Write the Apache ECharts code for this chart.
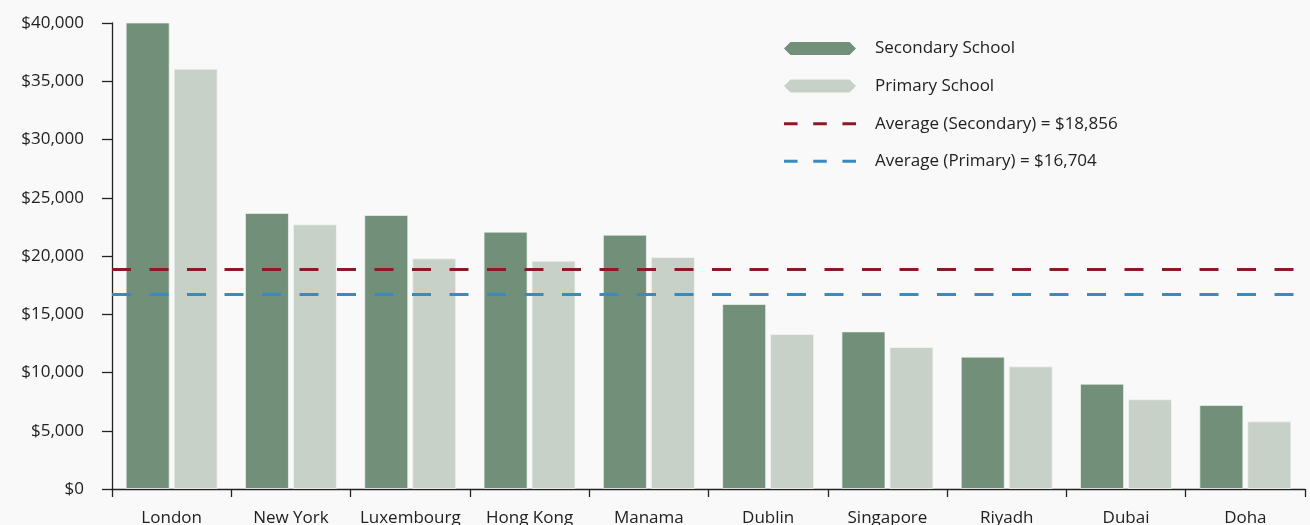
<!DOCTYPE html>
<html>
<head>
<meta charset="utf-8">
<script src="https://cdn.jsdelivr.net/npm/echarts@6/dist/echarts.min.js"></script>
<style>
  html, body { margin: 0; padding: 0; background: #f9f9f9; }
  #chart { width: 1310px; height: 525px; }
</style>
</head>
<body>
<div id="chart"></div>
<script>
// Annual school fees by city (USD)
const cities = ['London', 'New York', 'Luxembourg', 'Hong Kong', 'Manama', 'Dublin', 'Singapore', 'Riyadh', 'Dubai', 'Doha'];
const secondaryFees = [40320, 23690, 23520, 22090, 21830, 15880, 13530, 11360, 9040, 7210];
const primaryFees = [36080, 22720, 19800, 19600, 19910, 13300, 12190, 10530, 7700, 5810];
const averageSecondary = 18856;
const averagePrimary = 16704;

const seriesNames = ['Secondary School', 'Primary School'];
const avgNames = [
  'Average (Secondary) = $' + averageSecondary.toLocaleString('en-US'),
  'Average (Primary) = $' + averagePrimary.toLocaleString('en-US')
];

const FONT = '"Open Sans", "Liberation Sans", Arial, sans-serif';
const GREEN_DARK = '#718f79';
const GREEN_LIGHT = '#c7d1c8';
const RED = '#8c1a26';
const BLUE = '#3a8bbd';

const hexIcon = 'path://M0,6.5L6.5,0H65.5L72,6.5L65.5,13H6.5Z';
const dashIcon = 'path://M0,0H13V3H0ZM28,0H41V3H28ZM56,0H69V3H56Z';

function avgLine(name, value, color) {
  return {
    name: name,
    type: 'line',
    data: [],
    color: color,
    z: 5,
    markLine: {
      silent: true,
      symbol: 'none',
      label: { show: false },
      lineStyle: { color: color, width: 3, type: [19, 18.5] },
      data: [{ yAxis: value }],
      animation: false
    }
  };
}

const chart = echarts.init(document.getElementById('chart'), null, { renderer: 'canvas' });
chart.setOption({
  backgroundColor: '#f9f9f9',
  animation: false,
  textStyle: { fontFamily: FONT },
  grid: { left: 112, right: 5, top: 23, bottom: 36, containLabel: false, outerBoundsMode: 'none' },
  legend: {
    orient: 'vertical',
    left: 784,
    top: 38.5,
    padding: 0,
    itemWidth: 72,
    itemHeight: 13,
    itemGap: 17.6,
    textStyle: { fontFamily: FONT, fontSize: 17, lineHeight: 20, color: '#222', padding: [0, 0, 0, 14] },
    data: [
      { name: seriesNames[0], icon: hexIcon, itemStyle: { color: GREEN_DARK, borderWidth: 0 } },
      { name: seriesNames[1], icon: hexIcon, itemStyle: { color: GREEN_LIGHT, borderWidth: 0 } },
      { name: avgNames[0], icon: dashIcon, itemStyle: { color: RED, borderWidth: 0 } },
      { name: avgNames[1], icon: dashIcon, itemStyle: { color: BLUE, borderWidth: 0 } }
    ],
    selectedMode: false
  },
  xAxis: {
    type: 'category',
    data: cities,
    axisLine: { lineStyle: { color: '#222', width: 1.3 } },
    axisTick: { show: true, length: 8, alignWithLabel: false, lineStyle: { color: '#222', width: 1.3 } },
    axisLabel: { fontFamily: FONT, fontSize: 17, color: '#222', margin: 21, interval: 0, hideOverlap: false }
  },
  yAxis: {
    type: 'value',
    min: 0,
    max: 40000,
    interval: 5000,
    splitLine: { show: false },
    axisLine: { show: true, lineStyle: { color: '#222', width: 1.3 } },
    axisTick: { show: true, length: 10, lineStyle: { color: '#222', width: 1.3 } },
    axisLabel: {
      fontFamily: FONT, fontSize: 17, color: '#222', margin: 28,
      formatter: v => '$' + v.toLocaleString('en-US')
    }
  },
  series: [
    {
      name: seriesNames[0],
      type: 'bar',
      data: secondaryFees,
      barWidth: 44,
      barGap: '9%',
      itemStyle: { color: GREEN_DARK, borderColor: 'rgba(240,244,240,0.7)', borderWidth: 1 }
    },
    {
      name: seriesNames[1],
      type: 'bar',
      data: primaryFees,
      barWidth: 44,
      barGap: '9%',
      itemStyle: { color: GREEN_LIGHT, borderColor: 'rgba(240,244,240,0.8)', borderWidth: 1 }
    },
    avgLine(avgNames[0], averageSecondary, RED),
    avgLine(avgNames[1], averagePrimary, BLUE)
  ]
});
</script>
</body>
</html>
